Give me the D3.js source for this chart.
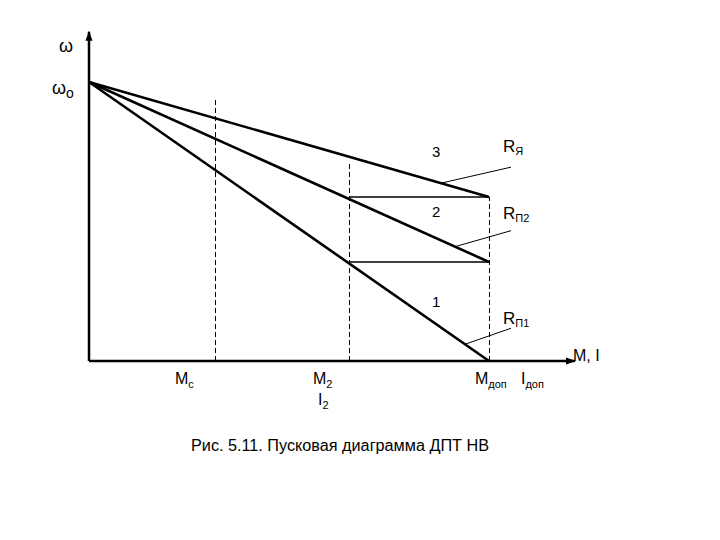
<!DOCTYPE html>
<html><head><meta charset="utf-8">
<script src="https://cdn.jsdelivr.net/npm/d3@7"></script>
<style>body{margin:0;background:#fff}text{font-family:"Liberation Sans",Arial,sans-serif;fill:#000}</style>
</head><body><svg id="c" width="720" height="540"></svg>
<script>
// Characteristic lines: speed ω (relative to ω0) at M = 0 and at M = Mдоп
const lineNames = ["1", "2", "3"];
const lineOmegaAtMdop = [0, 0.355, 0.588];
const resistorLabels = ["RП1", "RП2", "RЯ"];
// Torque marks on the M axis (relative to Mдоп)
const torqueNames = ["Mc", "M2", "Mдоп"];
const torqueValues = [0.315, 0.65, 1.0];
const dashTops = [0.946, 0.713, 0.588];
// Switching steps (horizontal transitions) from M2 to Mдоп
const stepOmegas = [0.588, 0.355];
const caption = "Рис. 5.11. Пусковая диаграмма ДПТ НВ";

const svg = d3.select("#c");
const x = d3.scaleLinear().domain([0, 1]).range([89, 489]);
const y = d3.scaleLinear().domain([0, 1]).range([361, 82]);
const line = d3.line().x(d => x(d[0])).y(d => y(d[1]));

svg.append("defs").append("marker").attr("id","arr").attr("viewBox","0 0 10 10")
  .attr("refX",9).attr("refY",5).attr("markerWidth",10).attr("markerHeight",10)
  .attr("markerUnits","userSpaceOnUse").attr("orient","auto")
  .append("path").attr("d","M0,1.5 L10,5 L0,8.5 Z").attr("fill","#000");

// Axes
svg.append("path").attr("d", line([[0,0],[1.215,0]])).attr("stroke","#000").attr("stroke-width",2.5).attr("marker-end","url(#arr)");
svg.append("path").attr("d", line([[0,0],[0,1.18]])).attr("stroke","#000").attr("stroke-width",2.5).attr("marker-end","url(#arr)");

// Dashed verticals
torqueValues.forEach((m,i)=>{
  svg.append("path").attr("d", line([[m,0],[m,dashTops[i]]])).attr("stroke","#000")
    .attr("transform","translate(0.5,0)")
    .attr("stroke-width",1).attr("stroke-dasharray","5,3").attr("fill","none");
});
// Horizontal steps
stepOmegas.forEach(w=>{
  svg.append("path").attr("d", line([[torqueValues[1],w],[torqueValues[2],w]])).attr("stroke","#000").attr("stroke-width",1.5);
});
// Characteristics
lineOmegaAtMdop.forEach(w=>{
  svg.append("path").attr("d", line([[0,1],[1,w]])).attr("stroke","#000").attr("stroke-width",2.6).attr("fill","none");
});

// Leader lines: start point on characteristic at M, end point at label
const leaderM = [0.94, 0.915, 0.88];
lineOmegaAtMdop.forEach((w,i)=>{
  const m = leaderM[i];
  const wy = 1 + (w-1)*m;
  const x0 = x(m), y0 = y(wy);
  svg.append("line").attr("x1",x0).attr("y1",y0).attr("x2",511).attr("y2",y0-16)
    .attr("stroke","#000").attr("stroke-width",1);
});

// Line numbers
const numY = [307, 217, 157];
lineNames.forEach((n,i)=>{
  svg.append("text").attr("x",432).attr("y",numY[i]).attr("font-size",15).text(n);
});
// Resistor labels with subscripts
const resY = [324, 219, 152];
resistorLabels.forEach((r,i)=>{
  const t = svg.append("text").attr("x",503).attr("y",resY[i]).attr("font-size",17);
  t.append("tspan").text(r[0]);
  t.append("tspan").attr("font-size",11).attr("dy",3).text(r.slice(1));
});

function sub(xp, yp, main, s, fs) {
  const t = svg.append("text").attr("x",xp).attr("y",yp).attr("font-size",fs||16);
  t.append("tspan").text(main);
  t.append("tspan").attr("font-size",11).attr("dy",4).text(s);
}
sub(175, 384, "M", "c");
sub(313, 384, "M", "2");
sub(318, 405, "I", "2");
sub(475, 384, "M", "доп");
sub(521, 384, "I", "доп");

svg.append("text").attr("x",573).attr("y",361).attr("font-size",16).text("M, I");
svg.append("text").attr("x",59).attr("y",52).attr("font-size",18).text("ω");
const w0 = svg.append("text").attr("x",52).attr("y",94).attr("font-size",18);
w0.append("tspan").text("ω");
w0.append("tspan").attr("font-size",14).attr("dy",4).text("o");

svg.append("text").attr("x",191).attr("y",451).attr("font-size",16)
  .attr("textLength",298).attr("lengthAdjust","spacingAndGlyphs").text(caption);
</script></body></html>
